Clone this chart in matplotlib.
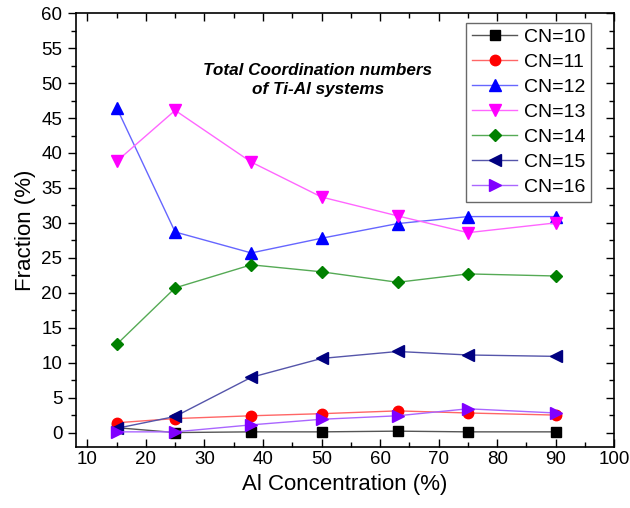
import matplotlib
matplotlib.use("Agg")
import numpy as np
import matplotlib.pyplot as plt
from matplotlib.ticker import MultipleLocator

plt.rcParams['font.family'] = ['Liberation Sans', 'DejaVu Sans']

# data
al_conc = [15, 25, 38, 50, 63, 75, 90]
labels = ["CN=10", "CN=11", "CN=12", "CN=13", "CN=14", "CN=15", "CN=16"]
cn10 = [0.7, 0.0, 0.1, 0.1, 0.2, 0.1, 0.1]
cn11 = [1.4, 2.0, 2.4, 2.7, 3.1, 2.8, 2.5]
cn12 = [46.5, 28.7, 25.7, 27.8, 29.9, 30.9, 30.9]
cn13 = [38.8, 46.1, 38.7, 33.7, 31.0, 28.6, 30.0]
cn14 = [12.6, 20.7, 24.0, 23.0, 21.5, 22.7, 22.4]
cn15 = [0.6, 2.3, 7.9, 10.6, 11.6, 11.1, 10.9]
cn16 = [0.1, 0.1, 1.1, 1.9, 2.4, 3.4, 2.8]
series = [cn10, cn11, cn12, cn13, cn14, cn15, cn16]

colors = ["#000000", "#ff0000", "#0000ff", "#ff00ff", "#008000", "#000080", "#8000ff"]
line_colors = ["#555555", "#ff6666", "#6666ff", "#ff66ff", "#55aa55", "#5555aa", "#aa66ff"]
markers = ["s", "o", "^", "v", "D", "<", ">"]
msizes = [7, 7.5, 8, 8, 6.5, 8, 8]

fig = plt.figure(figsize=(6.3, 5.08), dpi=100)
ax = fig.add_axes([0.120, 0.121, 0.855, 0.853])

for ys, lab, c, lc, m, ms in zip(series, labels, colors, line_colors, markers, msizes):
    ax.plot(al_conc, ys, color=lc, lw=1.0, marker=m, ms=ms,
            mfc=c, mec=c, label=lab)

ax.set_xlim(8, 100)
ax.set_ylim(-2, 60)
ax.xaxis.set_major_locator(MultipleLocator(10))
ax.xaxis.set_minor_locator(MultipleLocator(5))
ax.yaxis.set_major_locator(MultipleLocator(5))
ax.yaxis.set_minor_locator(MultipleLocator(2.5))

ax.tick_params(axis='y', which='both', direction='out', right=True, labelsize=13.5)
ax.tick_params(axis='x', which='both', direction='in', top=True, labelsize=13.5)
ax.tick_params(which='major', length=6, width=1)
ax.tick_params(which='minor', length=3.5, width=1)
for sp in ax.spines.values():
    sp.set_linewidth(1.2)

# right ticks point inward as in the reference
for t in ax.yaxis.get_major_ticks() + ax.yaxis.get_minor_ticks():
    t.tick2line.set_marker(matplotlib.lines.TICKLEFT)

ax.set_xlabel("Al Concentration (%)", fontsize=16)
ax.set_ylabel("Fraction (%)", fontsize=16)

ax.text(0.45, 0.845, "Total Coordination numbers\nof Ti-Al systems",
        transform=ax.transAxes, ha='center', va='center',
        fontsize=12.3, fontweight='bold', fontstyle='italic', linespacing=1.35)

leg = ax.legend(loc='upper right', bbox_to_anchor=(0.957, 0.978), fontsize=14,
                frameon=True, fancybox=False, edgecolor='#444444',
                handlelength=2.3, labelspacing=0.38, borderpad=0.3,
                handletextpad=0.35, borderaxespad=0)
leg.get_frame().set_linewidth(1.0)

fig.savefig("out.png", dpi=100)
